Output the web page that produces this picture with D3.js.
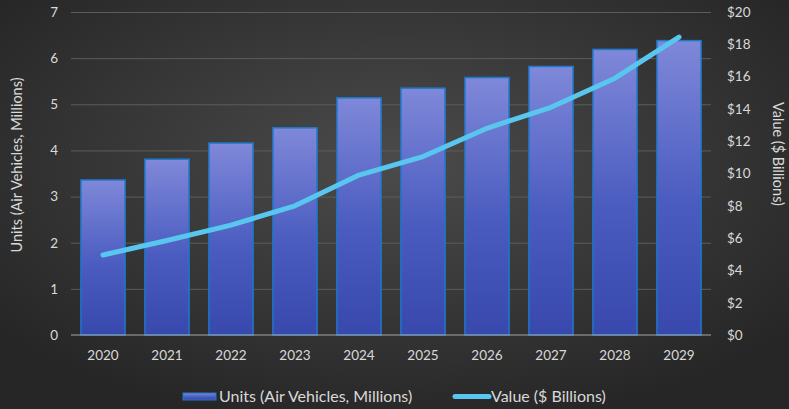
<!DOCTYPE html>
<html>
<head>
<meta charset="utf-8">
<script src="https://cdn.jsdelivr.net/npm/d3@7/dist/d3.min.js"></script>
<style>
  html, body { margin: 0; padding: 0; background: #2b2b2b; }
  svg { display: block; }
  text { font-family: Lato, "Open Sans", sans-serif; fill: #d9d9d9; }
</style>
</head>
<body>
<svg id="chart" width="789" height="409"></svg>
<script>
// Air vehicle market forecast
const years = ["2020", "2021", "2022", "2023", "2024", "2025", "2026", "2027", "2028", "2029"];
const units = [3.36, 3.81, 4.16, 4.49, 5.14, 5.35, 5.58, 5.82, 6.19, 6.38];   // millions of air vehicles
const value = [4.95, 5.85, 6.8, 8.0, 9.9, 11.05, 12.8, 14.1, 15.9, 18.45];     // $ billions
const unitTicks = [0, 1, 2, 3, 4, 5, 6, 7];
const valueTicks = [0, 2, 4, 6, 8, 10, 12, 14, 16, 18, 20];
const unitsLabel = "Units (Air Vehicles, Millions)";
const valueLabel = "Value ($ Billions)";

const W = 789, H = 409;
const m = { left: 71, right: 78, top: 12, bottom: 74 };
const svg = d3.select("#chart");
const defs = svg.append("defs");

// dark radial backdrop
const bg = defs.append("radialGradient").attr("id", "bg")
  .attr("cx", "50%").attr("cy", "40%").attr("r", "65%");
bg.append("stop").attr("offset", "0%").attr("stop-color", "#4b4b4b");
bg.append("stop").attr("offset", "100%").attr("stop-color", "#262626");
svg.append("rect").attr("width", W).attr("height", H).attr("fill", "url(#bg)");

// bar fill: light periwinkle at top to deep blue at bottom
const bar = defs.append("linearGradient").attr("id", "barFill")
  .attr("x1", 0).attr("y1", 0).attr("x2", 0).attr("y2", 1);
bar.append("stop").attr("offset", "0%").attr("stop-color", "#7f88d9");
bar.append("stop").attr("offset", "55%").attr("stop-color", "#4a5cc0");
bar.append("stop").attr("offset", "100%").attr("stop-color", "#3848ad");

const x = d3.scaleBand().domain(years).range([m.left, W - m.right]).paddingInner(0.31).paddingOuter(0.155);
const yL = d3.scaleLinear().domain([0, 7]).range([H - m.bottom, m.top]);
const yR = d3.scaleLinear().domain([0, 20]).range([H - m.bottom, m.top]);

// horizontal gridlines
svg.append("g").selectAll("line").data(unitTicks.slice(1)).join("line")
  .attr("x1", m.left).attr("x2", W - m.right)
  .attr("y1", d => yL(d) + 0.5).attr("y2", d => yL(d) + 0.5)
  .attr("stroke", "#5c5c5c").attr("stroke-width", 1);

// bars
svg.append("g").selectAll("rect").data(years).join("rect")
  .attr("x", d => x(d))
  .attr("y", (d, i) => yL(units[i]))
  .attr("width", x.bandwidth())
  .attr("height", (d, i) => yL(0) - yL(units[i]))
  .attr("fill", "url(#barFill)")
  .attr("stroke", "#1f78c8").attr("stroke-width", 1.5);

// baseline
svg.append("line").attr("x1", m.left).attr("x2", W - m.right)
  .attr("y1", yL(0)).attr("y2", yL(0))
  .attr("stroke", "#a6a6a6").attr("stroke-width", 1.2);

// value line
const line = d3.line().x((d, i) => x(years[i]) + x.bandwidth() / 2).y(d => yR(d));
svg.append("path").datum(value).attr("d", line)
  .attr("fill", "none").attr("stroke", "#58c6ee").attr("stroke-width", 5)
  .attr("stroke-linecap", "round").attr("stroke-linejoin", "round");

// left axis
const axL = svg.append("g").attr("transform", `translate(${m.left - 13},0)`)
  .call(d3.axisLeft(yL).tickValues(unitTicks).tickFormat(d3.format("d")).tickSize(0).tickPadding(0));
axL.select(".domain").remove();
axL.selectAll("text").attr("font-size", 13.5).style("fill", "#d9d9d9");

// right axis
const axR = svg.append("g").attr("transform", `translate(${W - m.right + 16},0)`)
  .call(d3.axisRight(yR).tickValues(valueTicks).tickFormat(d => "$" + d).tickSize(0).tickPadding(0));
axR.select(".domain").remove();
axR.selectAll("text").attr("font-size", 13.5).style("fill", "#d9d9d9");

// bottom axis
const axB = svg.append("g").attr("transform", `translate(0,${H - m.bottom})`)
  .call(d3.axisBottom(x).tickSize(0).tickPadding(15));
axB.select(".domain").remove();
axB.selectAll("text").attr("font-size", 13.5).style("fill", "#d9d9d9");

// axis titles
svg.append("text").attr("transform", `translate(17,165) rotate(-90)`)
  .attr("text-anchor", "middle").attr("dy", "0.35em").attr("font-size", 14.5).text(unitsLabel);
svg.append("text").attr("transform", `translate(778,154) rotate(90)`)
  .attr("text-anchor", "middle").attr("dy", "0.35em").attr("font-size", 14.5).text(valueLabel);

// legend
const lg = svg.append("g");
lg.append("rect").attr("x", 183).attr("y", 393).attr("width", 33).attr("height", 7)
  .attr("fill", "url(#barFill)").attr("stroke", "#1f78c8").attr("stroke-width", 1);
lg.append("text").attr("x", 219).attr("y", 402).attr("font-size", 16).text(unitsLabel);
lg.append("line").attr("x1", 455).attr("x2", 489).attr("y1", 396.5).attr("y2", 396.5)
  .attr("stroke", "#58c6ee").attr("stroke-width", 5).attr("stroke-linecap", "round");
lg.append("text").attr("x", 491).attr("y", 402).attr("font-size", 16).text(valueLabel);
</script>
</body>
</html>
